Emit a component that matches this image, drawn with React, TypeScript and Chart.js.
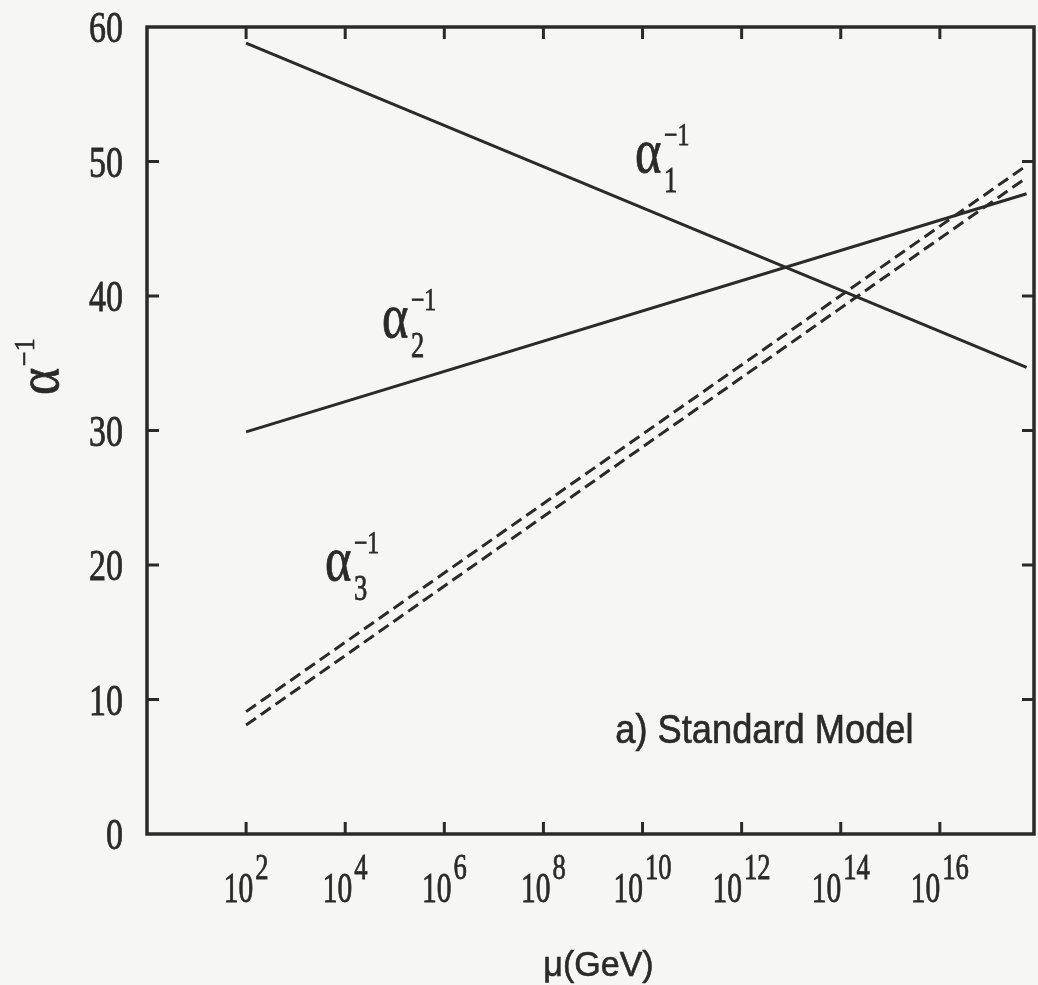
import { useEffect, useRef } from "react";
import { Chart, registerables } from "chart.js";

Chart.register(...registerables);

// ---- data (x = log10 of mu in GeV) ----
const logMu = [2, 17.75];
const alpha1Inv = [58.8, 34.7];
const alpha2Inv = [29.9, 47.6];
const alpha3InvUpper = [9.1, 49.7];
const alpha3InvLower = [8.1, 48.8];

const xTickExponents = [2, 4, 6, 8, 10, 12, 14, 16];
const yTicks = [0, 10, 20, 30, 40, 50, 60];

const X_MIN = 0;
const X_MAX = 17.9;
const Y_MIN = 0;
const Y_MAX = 60;

const curveLabelSubs = ["1", "2", "3"];
const curveLabelX = [9.85, 4.74, 3.59];
const curveLabelY = [49.2, 36.95, 18.9];

const panelText = "a) Standard Model";
const panelX = 9.45;
const panelY = 6.77;
const xTitle = "μ(GeV)";

const INK = "#2a2a2a";
const BG = "#f6f6f4";
const SERIF = '"Liberation Serif", "DejaVu Serif", serif';
const SANS = '"Liberation Sans", Arial, sans-serif';

function txt(
  ctx: CanvasRenderingContext2D,
  s: string,
  x: number,
  y: number,
  font: string,
  sx: number,
  sy: number,
  align: CanvasTextAlign = "left"
) {
  ctx.save();
  ctx.translate(x, y);
  ctx.scale(sx, sy);
  ctx.font = font;
  ctx.textAlign = align;
  ctx.textBaseline = "alphabetic";
  ctx.fillStyle = INK;
  ctx.strokeStyle = INK;
  ctx.lineWidth = 0.6;
  ctx.fillText(s, 0, 0);
  ctx.strokeText(s, 0, 0);
  ctx.restore();
}

function widthOf(ctx: CanvasRenderingContext2D, s: string, font: string, sx: number) {
  ctx.save();
  ctx.font = font;
  const w = ctx.measureText(s).width * sx;
  ctx.restore();
  return w;
}

const decorPlugin = {
  id: "decor",
  afterDatasetsDraw(chart: any) {
    const ctx: CanvasRenderingContext2D = chart.ctx;
    const { left, right, top, bottom } = chart.chartArea;
    const xs = chart.scales.x;
    const ys = chart.scales.y;
    ctx.save();
    // frame
    ctx.strokeStyle = INK;
    ctx.lineWidth = 3.5;
    ctx.strokeRect(left, top, right - left, bottom - top);
    // inward ticks
    const tl = 12;
    ctx.lineWidth = 3;
    ctx.beginPath();
    xTickExponents.forEach((e) => {
      const px = xs.getPixelForValue(e);
      ctx.moveTo(px, bottom);
      ctx.lineTo(px, bottom - tl);
      ctx.moveTo(px, top);
      ctx.lineTo(px, top + tl);
    });
    yTicks.forEach((v) => {
      if (v === Y_MIN || v === Y_MAX) return;
      const py = ys.getPixelForValue(v);
      ctx.moveTo(left, py);
      ctx.lineTo(left + tl, py);
      ctx.moveTo(right, py);
      ctx.lineTo(right - tl, py);
    });
    ctx.stroke();

    // y tick labels
    const yFont = `34px ${SERIF}`;
    yTicks.forEach((v) => {
      const py = ys.getPixelForValue(v);
      txt(ctx, String(v), left - 24, py + 15, yFont, 1, 1.32, "right");
    });

    // x tick labels 10^n
    const baseFont = `31px ${SERIF}`;
    const supFont = `28px ${SERIF}`;
    xTickExponents.forEach((e) => {
      const px = xs.getPixelForValue(e);
      const wb = widthOf(ctx, "10", baseFont, 0.95);
      const ws = widthOf(ctx, String(e), supFont, 0.95);
      const gap = 2;
      const x0 = px - (wb + gap + ws) / 2;
      txt(ctx, "10", x0, bottom + 68, baseFont, 0.95, 1.35, "left");
      txt(ctx, String(e), x0 + wb + gap, bottom + 45, supFont, 0.95, 1.3, "left");
    });

    // curve labels alpha_i^{-1}
    const aFont = `48px ${SERIF}`;
    const supF = `25px ${SERIF}`;
    const subF = `28px ${SERIF}`;
    curveLabelSubs.forEach((sub, i) => {
      const px = xs.getPixelForValue(curveLabelX[i]);
      const py = ys.getPixelForValue(curveLabelY[i]);
      txt(ctx, "α", px, py, aFont, 1.05, 1.3, "left");
      txt(ctx, "−1", px + 29, py - 27, supF, 0.95, 1.25, "left");
      txt(ctx, sub, px + 29, py + 20, subF, 0.95, 1.3, "left");
    });

    // panel label
    txt(
      ctx,
      panelText,
      xs.getPixelForValue(panelX),
      ys.getPixelForValue(panelY),
      `37px ${SANS}`,
      0.98,
      1.1,
      "left"
    );

    // x title
    txt(ctx, xTitle, (left + right) / 2 + 8, bottom + 142, `34px ${SANS}`, 1, 1.05, "center");

    // y title (rotated)
    ctx.save();
    ctx.translate(58, 395);
    ctx.rotate(-Math.PI / 2);
    txt(ctx, "α", 0, 0, `52px ${SERIF}`, 1, 1.15, "left");
    txt(ctx, "−1", 29, -24, `26px ${SERIF}`, 1, 1.15, "left");
    ctx.restore();

    ctx.restore();
  },
};

function pts(ys: number[]) {
  return logMu.map((x, i) => ({ x, y: ys[i] }));
}

export default function App() {
  const ref = useRef<HTMLCanvasElement | null>(null);
  useEffect(() => {
    if (!ref.current) return;
    const lineBase = {
      showLine: true,
      borderColor: INK,
      borderWidth: 3,
      pointRadius: 0,
      fill: false,
      tension: 0,
    };
    const chart = new Chart(ref.current, {
      type: "scatter",
      data: {
        datasets: [
          { label: "alpha1^-1", data: pts(alpha1Inv), ...lineBase },
          { label: "alpha2^-1", data: pts(alpha2Inv), ...lineBase },
          { label: "alpha3^-1 upper", data: pts(alpha3InvUpper), ...lineBase, borderDash: [12, 6] },
          { label: "alpha3^-1 lower", data: pts(alpha3InvLower), ...lineBase, borderDash: [12, 6] },
        ],
      },
      options: {
        animation: false,
        responsive: false,
        devicePixelRatio: 1,
        layout: { padding: { left: 147, top: 27, right: 4, bottom: 151 } },
        plugins: { legend: { display: false }, tooltip: { enabled: false } },
        scales: {
          x: { type: "linear", min: X_MIN, max: X_MAX, display: false },
          y: { type: "linear", min: Y_MIN, max: Y_MAX, display: false },
        },
      },
      plugins: [decorPlugin],
    });
    return () => chart.destroy();
  }, []);
  return (
    <div style={{ position: "fixed", left: 0, top: 0, width: 1038, height: 985, background: BG }}>
      <canvas ref={ref} width={1038} height={985} style={{ display: "block" }} />
    </div>
  );
}
